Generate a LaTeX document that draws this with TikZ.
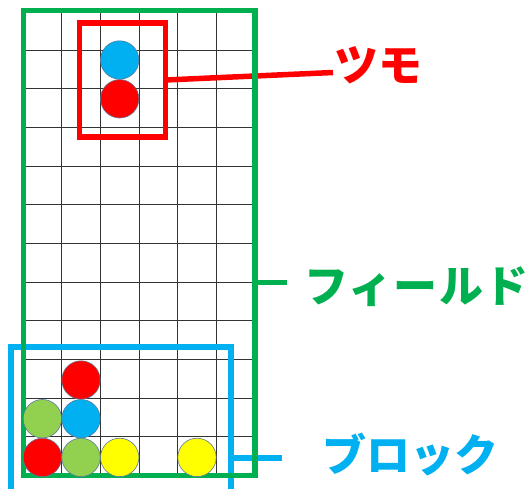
\documentclass[tikz,border=0pt]{standalone}
\usepackage{fontspec}
\newfontfamily\cjk{Noto Sans CJK JP}
\definecolor{fgreen}{HTML}{00B050}
\definecolor{pred}{HTML}{FF0000}
\definecolor{pblue}{HTML}{00B0F0}
\definecolor{pgreen}{HTML}{92D050}
\definecolor{pyellow}{HTML}{FFFF00}
\definecolor{pline}{HTML}{5B7A99}
\begin{document}
\begin{tikzpicture}[x=1pt,y=-1pt,
  gridline/.style={draw=black!80,line width=0.8pt},
  frame/.style={draw,line width=5.5pt,inner sep=0pt,outer sep=0pt},
  connector/.style={line width=5.5pt},
  puyo/.style={circle,draw=pline,line width=0.6pt,minimum size=38.4pt,inner sep=0pt},
  label/.style={font=\cjk\bfseries\fontsize{44}{44}\selectfont,inner sep=0pt,anchor=base west}]
\useasboundingbox (0,0) rectangle (528,488);
% grid
\foreach \k in {1,...,5} \draw[gridline] (23+38.67*\k,10.7) -- (23+38.67*\k,475.3);
\foreach \k in {1,...,11} \draw[gridline] (23.7,11.3+38.67*\k) -- (255,11.3+38.67*\k);
% labels
\node[label,text=pred] (tsumolabel) at (334,81) {ツモ};
\node[label,text=fgreen] (fieldlabel) at (304,302) {\addfontfeature{LetterSpace=3}フィールド};
\node[label,text=pblue] (blocklabel) at (322,471) {ブロック};
\coordinate (tend) at (333,72.5);
\coordinate (fend) at (287,282.5);
\coordinate (bend) at (282,458);
% boxes
\node[frame,draw=pred,minimum width=86pt,minimum height=113.6pt] (tsumo) at (122.5,80) {};
\node[frame,draw=pblue,minimum width=220pt,minimum height=153pt] (block) at (121,423.5) {};
% connectors
\draw[connector,pred] (tsumo.east) -- (tend);
\draw[connector,pblue] (block.east |- bend) -- (bend);
% field frame
\node[frame,draw=fgreen,minimum width=231.3pt,minimum height=464.6pt] (field) at (139.35,243) {};
\draw[connector,fgreen] (field.east |- fend) -- (fend);
% puyos
\node[puyo,fill=pblue] (p1) at (119.7,60) {};
\node[puyo,fill=pred] (p2) at (119.7,98.8) {};
\node[puyo,fill=pred] (p3) at (81,380) {};
\node[puyo,fill=pgreen] (p4) at (42.4,418.7) {};
\node[puyo,fill=pblue] (p5) at (81,418.7) {};
\node[puyo,fill=pred] (p6) at (42.4,457.4) {};
\node[puyo,fill=pgreen] (p7) at (81,457.4) {};
\node[puyo,fill=pyellow] (p8) at (119.7,457.4) {};
\node[puyo,fill=pyellow] (p9) at (197,457.4) {};
\end{tikzpicture}
\end{document}
